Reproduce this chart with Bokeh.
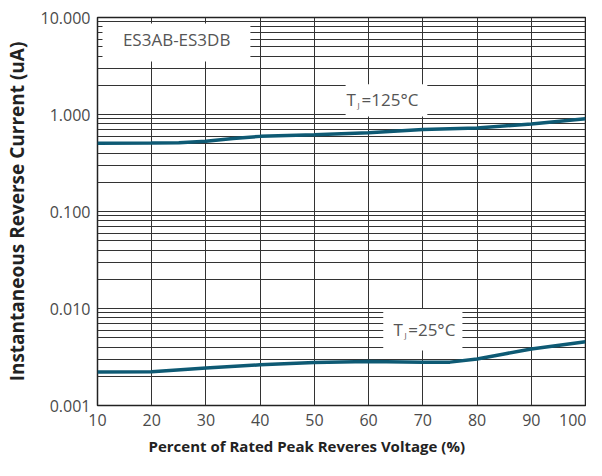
from bokeh.plotting import figure
from bokeh.models import FixedTicker, PrintfTickFormatter, BoxAnnotation, Label, Title
from bokeh.embed import file_html
from bokeh.resources import INLINE

# ---- data ----
x_ticks = [10, 20, 30, 40, 50, 60, 70, 80, 90, 100]
y_decades = [0.001, 0.01, 0.1, 1.0, 10.0]

v_125 = [10, 20, 25, 30, 35, 40, 50, 60, 70, 80, 90, 100]
i_125 = [0.505, 0.507, 0.512, 0.53, 0.565, 0.595, 0.617, 0.647, 0.70, 0.727, 0.80, 0.905]

v_25 = [10, 20, 30, 40, 50, 60, 70, 75, 80, 85, 90, 100]
i_25 = [0.00222, 0.00223, 0.00243, 0.00263, 0.00278, 0.00284, 0.00280, 0.00280,
        0.00302, 0.00340, 0.00382, 0.00454]

series_label = "ES3AB-ES3DB"
x_title = "Percent of Rated Peak Reveres Voltage (%)"
y_title = "Instantaneous Reverse Current (uA)"

minor = [m * d for d in y_decades[:-1] for m in range(2, 10)]

p = figure(width=586, height=460, x_range=(10, 100), y_range=(0.001, 10),
           y_axis_type="log", output_backend="svg", toolbar_location=None,
           min_border_left=97, min_border_right=1, min_border_top=17, min_border_bottom=0)
p.background_fill_color = "white"
p.border_fill_color = "white"
p.outline_line_color = "#222222"
p.outline_line_width = 1.5

# grids
p.xgrid.ticker = FixedTicker(ticks=x_ticks)
p.xgrid.grid_line_color = "#333333"
p.xgrid.grid_line_width = 1
p.ygrid.ticker = FixedTicker(ticks=y_decades, minor_ticks=minor)
p.ygrid.grid_line_color = "#333333"
p.ygrid.grid_line_width = 1
p.ygrid.minor_grid_line_color = "#333333"
p.ygrid.minor_grid_line_width = 1

# axes
for ax in (p.xaxis[0], p.yaxis[0]):
    ax.axis_line_color = None
    ax.major_tick_line_color = None
    ax.minor_tick_line_color = None
    ax.major_tick_in = 0
    ax.major_tick_out = 0
    ax.minor_tick_in = 0
    ax.minor_tick_out = 0
    ax.major_label_text_font = "Open Sans"
    ax.major_label_text_font_size = "16px"
    ax.major_label_text_color = "#4a4a4a"

p.xaxis.ticker = FixedTicker(ticks=x_ticks)
p.xaxis.major_label_standoff = 8
p.yaxis.ticker = FixedTicker(ticks=y_decades)
p.yaxis.formatter = PrintfTickFormatter(format="%.3f")
p.yaxis.major_label_standoff = 7
p.yaxis.axis_label = y_title
p.yaxis.axis_label_text_font = "Open Sans"
p.yaxis.axis_label_text_font_style = "bold"
p.yaxis.axis_label_text_font_size = "19px"
p.yaxis.axis_label_text_color = "#222222"
p.yaxis.axis_label_standoff = 8

# x-axis title, placed off-centre like the reference
xt = Title(text=x_title, align="left", offset=51, text_font="Open Sans",
           text_font_style="bold", text_font_size="15px", text_color="#222222", standoff=10)
p.add_layout(xt, "below")

# curves
line_color = "#0e5a74"
p.line(v_125, i_125, line_color=line_color, line_width=3.5)
p.line(v_25, i_25, line_color=line_color, line_width=3.5)

# white label boxes
for (l, r, b, t) in [(10.92, 38.2, 3.52, 8.65), (55.76, 70.83, 0.954, 2.05), (62.7, 77.3, 0.0037, 0.00986)]:
    p.add_layout(BoxAnnotation(left=l, right=r, bottom=b, top=t, fill_color="white",
                               fill_alpha=1.0, line_color=None, level="annotation"))

txt = dict(text_font="Open Sans", text_color="#555555", text_baseline="middle")
p.add_layout(Label(x=24.6, y=5.89, text=series_label, text_align="center", text_font_size="17px", **txt))

# T_J = 125 °C
p.add_layout(Label(x=55.9, y=1.42, text="T", text_align="left", text_font_size="17px", **txt))
p.add_layout(Label(x=57.95, y=1.26, text="J", text_align="left", text_font_size="8px", **txt))
p.add_layout(Label(x=58.7, y=1.42, text="=125°C", text_align="left", text_font_size="17px", **txt))

# T_J = 25 °C
p.add_layout(Label(x=64.6, y=0.00608, text="T", text_align="left", text_font_size="17px", **txt))
p.add_layout(Label(x=66.6, y=0.0054, text="J", text_align="left", text_font_size="8px", **txt))
p.add_layout(Label(x=67.3, y=0.00608, text="=25°C", text_align="left", text_font_size="17px", **txt))

open("out.html", "w").write(file_html(p, INLINE))
